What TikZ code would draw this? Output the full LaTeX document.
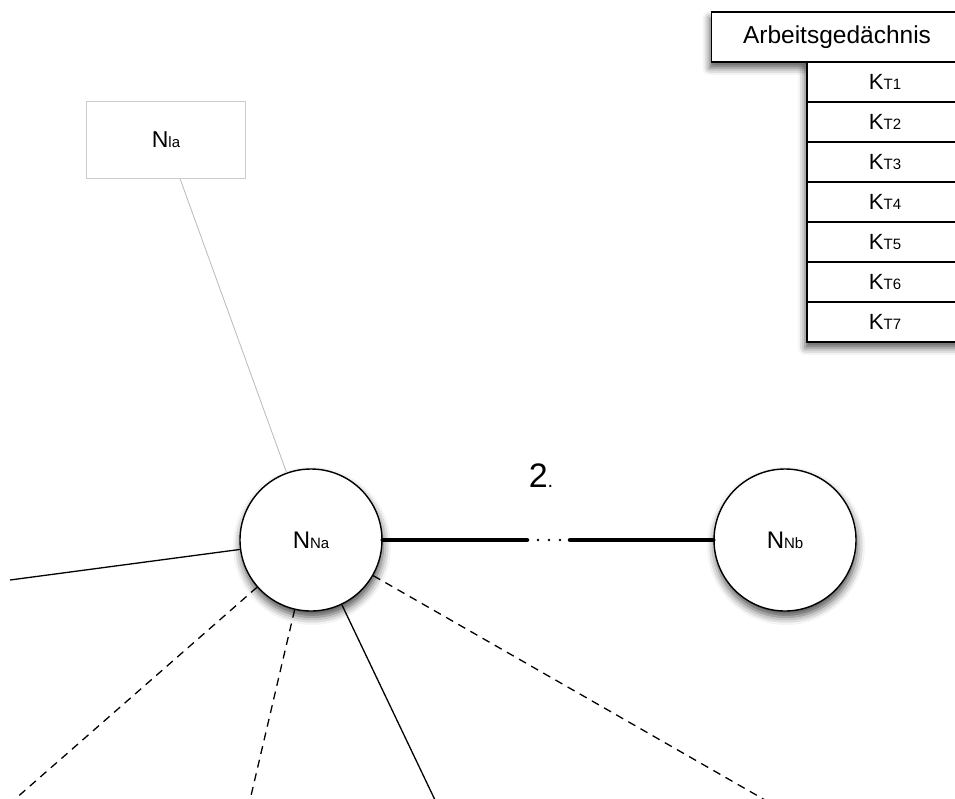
\documentclass[tikz,border=0pt]{standalone}
\usepackage{fontspec}
\setmainfont{Liberation Sans}
\usetikzlibrary{shadows.blur,calc}
\newcommand{\lowidx}[1]{{\fontsize{15}{15}\selectfont #1}}
\tikzset{
  neuron/.style={
    circle,
    draw,
    line width=1.4pt,
    fill=white,
    minimum size=142pt,
    inner sep=0pt,
    blur shadow={shadow xshift=1pt, shadow yshift=-6pt, shadow blur radius=8pt, shadow opacity=70},
    font=\fontsize{24}{24}\selectfont
  },
  inbox/.style={
    draw=gray!40,
    line width=1pt,
    minimum width=159pt,
    minimum height=77pt,
    font=\fontsize{23}{23}\selectfont
  },
  weak/.style={
    draw=gray!55,
    line width=0.8pt
  },
  bond/.style={
    line width=4.5pt,
    line cap=round
  },
  gapdots/.style={
    line width=2.6pt,
    line cap=round,
    dash pattern=on 0pt off 11pt
  },
  spoke/.style={
    line width=1.3pt
  },
  spokedash/.style={
    line width=1.3pt,
    dash pattern=on 8pt off 6pt
  }
}
\tikzset{
  wmhead/.style={
    draw,
    line width=1.3pt,
    fill=white,
    minimum width=251pt,
    minimum height=50pt,
    blur shadow={shadow xshift=-2pt, shadow yshift=-6pt, shadow blur radius=7pt, shadow opacity=65},
    font=\fontsize{24.5}{24.5}\selectfont
  },
  wmbody/.style={
    draw,
    line width=1.3pt,
    fill=white,
    minimum width=156pt,
    minimum height=280pt,
    blur shadow={shadow xshift=-2pt, shadow yshift=-6pt, shadow blur radius=7pt, shadow opacity=65}
  },
  wmrow/.style={
    draw,
    line width=1.3pt,
    minimum width=156pt,
    minimum height=40pt,
    inner sep=0pt,
    font=\fontsize{22}{22}\selectfont
  },
  steplabel/.style={
    font=\fontsize{34}{34}\selectfont
  }
}

\begin{document}
\begin{tikzpicture}[x=1pt,y=-1pt]
    \useasboundingbox (0,0) rectangle (955,798);
    % input node
    \node[inbox] (nla) at (166,140) {N\lowidx{la}};
    % the two neurons
    \node[neuron] (nna) at (311,540) {N\lowidx{Na}};
    \node[neuron] (nnb) at (785,540) {N\lowidx{Nb}};
    % working memory
    \node[wmhead] (wm) at (837,37) {Arbeitsgedächnis};
    \node[wmbody] (wmb) at (885,202) {};
    \foreach \i in {1,...,7}
        \node[wmrow] (k\i) at (885,42+40*\i) {K\lowidx{T\i}};
    % connections
    \draw[weak] (nla) -- (nna);
    \coordinate (gapl) at (527,540);
    \coordinate (gapr) at (570,540);
    \draw[bond] (nna) -- (gapl);
    \draw[gapdots] (gapl) -- (gapr);
    \draw[bond] (gapr) -- (nnb);
    \node[steplabel] (lbl) at (541,476) {2{\fontsize{20}{20}\selectfont .}};
    % spokes leaving the picture
    \coordinate (e1) at (10,580);
    \coordinate (e2) at (14,800);
    \coordinate (e3) at (250,800);
    \coordinate (e4) at (435,800);
    \coordinate (e5) at (765,800);
    \draw[spoke] (nna) -- (e1);
    \draw[spokedash] (nna) -- (e2);
    \draw[spokedash] (nna) -- (e3);
    \draw[spoke] (nna) -- (e4);
    \draw[spokedash] (nna) -- (e5);
\end{tikzpicture}
\end{document}
